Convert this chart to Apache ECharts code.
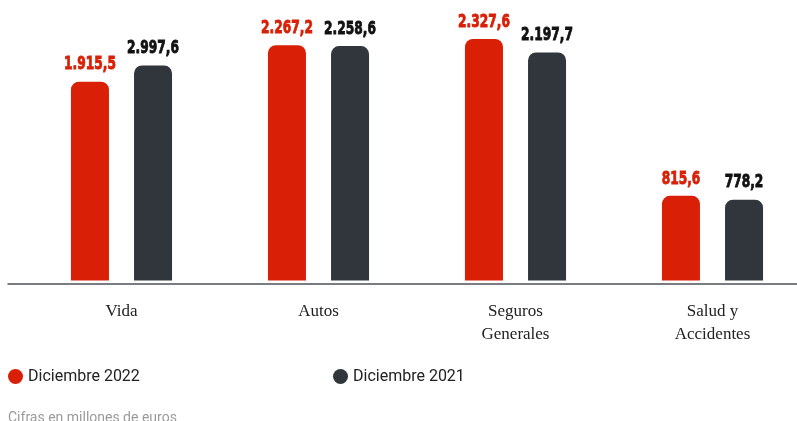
<!DOCTYPE html>
<html><head><meta charset="utf-8">
<script src="https://cdn.jsdelivr.net/npm/echarts@6/dist/echarts.min.js"></script>
<style>html,body{margin:0;padding:0;background:#fff}#c{width:797px;height:421px}</style>
</head><body><div id="c"></div>
<script>
const categories = ['Vida', 'Autos', 'Seguros\nGenerales', 'Salud y\nAccidentes'];
const seriesNames = ['Diciembre 2022', 'Diciembre 2021'];
// bar heights
const values2022 = [1915.5, 2267.2, 2327.6, 815.6];
const values2021 = [2072, 2258.6, 2197.7, 778.2];
// value labels as printed on the picture
const labels2022 = ['1.915,5', '2.267,2', '2.327,6', '815,6'];
const labels2021 = ['2.997,6', '2.258,6', '2.197,7', '778,2'];
const footnote = 'Cifras en millones de euros';

const RED = '#d91f06', DARK = '#30363c';
const chart = echarts.init(document.getElementById('c'));

function barSeries(name, vals, color) {
  return {
    type: 'bar', name, data: vals, xAxisIndex: 0, yAxisIndex: 0,
    barWidth: 38, barGap: '66%',
    itemStyle: {color, borderRadius: [8, 8, 0, 0]}
  };
}
function labelSeries(vals, labs, color, offset) {
  return {
    type: 'custom', xAxisIndex: 0, yAxisIndex: 0, silent: true,
    data: vals.map((v, i) => [i, v]),
    encode: {x: 0, y: 1},
    renderItem: (params, api) => {
      const pt = api.coord([api.value(0), api.value(1)]);
      return {
        type: 'text', x: pt[0] + offset, y: pt[1] - 8, scaleX: 0.68,
        style: {
          text: labs[params.dataIndex], fill: color, stroke: color, lineWidth: 0.9,
          fontFamily: '"DejaVu Sans", sans-serif', fontWeight: 'bold', fontSize: 18,
          align: 'center', verticalAlign: 'bottom'
        }
      };
    }
  };
}
const legendText = {fontFamily: 'Roboto, sans-serif', fontSize: 16, color: '#222'};
chart.setOption({
  animation: false,
  title: {text: footnote, left: 8, top: 411, padding: 0,
    textStyle: {color: '#9a9a9a', fontSize: 14, fontWeight: 'normal', fontFamily: 'Roboto, sans-serif'}},
  legend: [
    {data: [seriesNames[0]], left: 8, top: 368.5, padding: 0, icon: 'circle', itemWidth: 15, itemHeight: 15, itemGap: 5, textStyle: legendText},
    {data: [seriesNames[1]], left: 333, top: 368.5, padding: 0, icon: 'circle', itemWidth: 15, itemHeight: 15, itemGap: 5, textStyle: legendText}
  ],
  grid: [
    {left: 23, width: 788, top: 21, bottom: 140.5, outerBoundsMode: 'none', containLabel: false},
    {left: 8, right: 0, top: 21, bottom: 137.5, outerBoundsMode: 'none'}
  ],
  xAxis: [
    {type: 'category', gridIndex: 0, data: categories, axisLine: {show: false}, axisTick: {show: false},
      axisLabel: {margin: 20, color: '#222', fontFamily: '"Liberation Serif", "DejaVu Serif", serif', fontSize: 17, lineHeight: 23}},
    {type: 'value', gridIndex: 1, min: 0, max: 1, axisLine: {show: true, onZero: false, lineStyle: {color: '#4d5257', width: 1.5}},
      axisTick: {show: false}, axisLabel: {show: false}, splitLine: {show: false}}
  ],
  yAxis: [
    {type: 'value', gridIndex: 0, min: 0, max: 2500, show: false},
    {type: 'value', gridIndex: 1, min: 0, max: 1, show: false}
  ],
  series: [
    barSeries(seriesNames[0], values2022, RED),
    barSeries(seriesNames[1], values2021, DARK),
    labelSeries(values2022, labels2022, RED, -31.5),
    labelSeries(values2021, labels2021, '#111', 31.5)
  ]
});
</script></body></html>
